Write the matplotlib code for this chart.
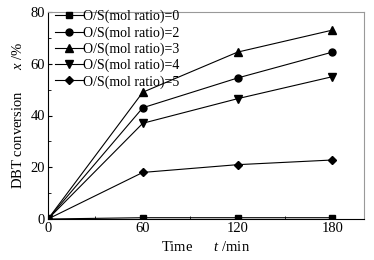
import matplotlib
matplotlib.use("Agg")
import matplotlib.pyplot as plt
from matplotlib.ticker import MultipleLocator

plt.rcParams['font.family'] = ['Liberation Serif', 'DejaVu Serif']
plt.rcParams['mathtext.fontset'] = 'custom'
plt.rcParams['mathtext.it'] = 'Liberation Serif:italic'
plt.rcParams['mathtext.rm'] = 'Liberation Serif'

time = [0, 60, 120, 180]
labels = ['O/S(mol ratio)=0', 'O/S(mol ratio)=2', 'O/S(mol ratio)=3',
          'O/S(mol ratio)=4', 'O/S(mol ratio)=5']
ratio0 = [0, 0.5, 0.5, 0.5]
ratio2 = [0, 43, 54.5, 64.5]
ratio3 = [0, 49, 64.5, 73]
ratio4 = [0, 37, 46.5, 55]
ratio5 = [0, 18, 21, 22.8]
series = [ratio0, ratio2, ratio3, ratio4, ratio5]
markers = ['s', 'o', '^', 'v', 'D']
msizes = [4.5, 5, 5.5, 5.5, 4.5]

fig = plt.figure(figsize=(3.74, 2.6), dpi=100)
ax = fig.add_axes([48/374, 41/260, 316/374, 207/260])
for y, lab, m, ms in zip(series, labels, markers, msizes):
    ax.plot(time, y, color='black', lw=0.8, marker=m, ms=ms, label=lab)

ax.set_xlim(0, 200)
ax.set_ylim(0, 80)
ax.xaxis.set_major_locator(MultipleLocator(60))
ax.xaxis.set_minor_locator(MultipleLocator(30))
ax.yaxis.set_major_locator(MultipleLocator(20))
ax.yaxis.set_minor_locator(MultipleLocator(10))
ax.tick_params(which='both', direction='in', top=False, right=False, labelsize=10.5, pad=2)
ax.tick_params(which='major', length=3)
ax.tick_params(which='minor', length=2)
for s in ['top', 'right']:
    ax.spines[s].set_color('#999999')
for s in ax.spines.values():
    s.set_linewidth(0.8)

ax.set_xlabel(r'Time      $t$ /min', fontsize=10.5, labelpad=4)
ax.set_ylabel(r'DBT conversion      $x$ /%', fontsize=10.5, labelpad=4)
ax.legend(loc='upper left', frameon=False, fontsize=10, handlelength=2.0,
          handletextpad=0.0, labelspacing=0.2, borderaxespad=0.2,
          bbox_to_anchor=(-0.005, 1.05))

fig.savefig('out.png', dpi=100)
